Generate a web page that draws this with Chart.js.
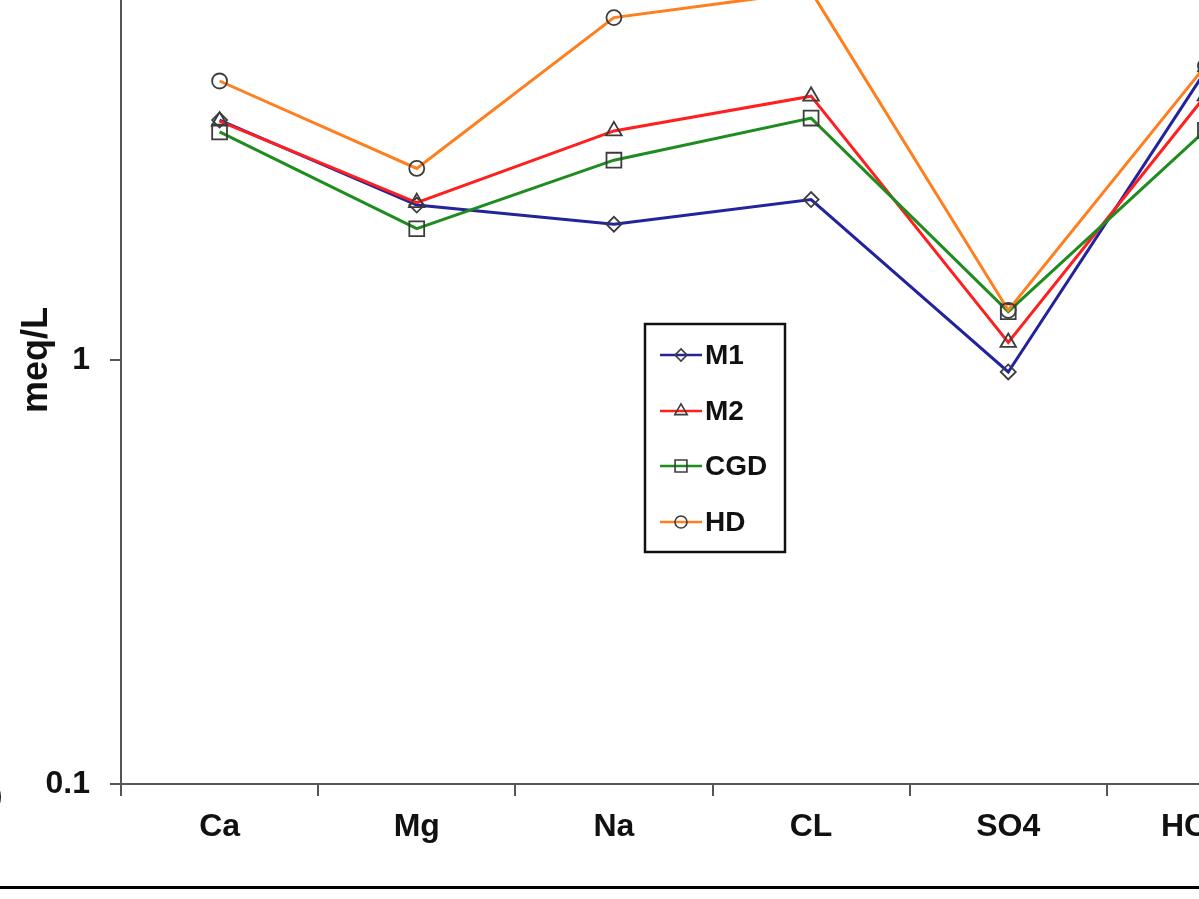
<!DOCTYPE html>
<html>
<head>
<meta charset="utf-8">
<script src="https://cdn.jsdelivr.net/npm/chart.js@4.4.1/dist/chart.umd.min.js"></script>
<style>
  html, body { margin: 0; padding: 0; background: #fff; width: 1199px; height: 899px; overflow: hidden; }
  #wrap { position: absolute; left: 0; top: 0; width: 1199px; height: 899px; overflow: hidden; }
  #chart { position: absolute; left: 0; top: -100px; }
  #rule { position: absolute; left: 0; top: 886px; width: 1199px; height: 3px; background: #000; }
  #edge { position: absolute; left: -15px; top: 780px; font: bold 31px "Liberation Sans", Arial, sans-serif; color: #111; }
</style>
</head>
<body>
<div id="wrap">
  <canvas id="chart" width="1400" height="1000"></canvas>
  <span id="edge">0</span>
  <div id="rule"></div>
</div>
<script>
// Ion concentrations (meq/L) per sample group
const categories = ['Ca', 'Mg', 'Na', 'CL', 'SO4', 'HCO3'];
const m1  = [3.68, 2.32, 2.09, 2.39, 0.937, 4.80];
const m2  = [3.66, 2.35, 3.47, 4.19, 1.10, 4.20];
const cgd = [3.45, 2.04, 2.96, 3.72, 1.30, 3.48];
const hd  = [4.55, 2.83, 6.42, 7.40, 1.31, 4.94];
const seriesNames = ['M1', 'M2', 'CGD', 'HD'];
const yTickValues = [0.1, 1, 10];
const yTickLabels = ['0.1', '1', '10'];

const FONT = '"Liberation Sans", Arial, sans-serif';
const MARKER = '#3c3c3c';

function series(label, data, color, style, radius, order) {
  return {
    label, data, order,
    borderColor: color,
    borderWidth: 3,
    tension: 0,
    fill: false,
    pointStyle: style,
    pointRadius: radius,
    pointHoverRadius: radius,
    pointBorderColor: MARKER,
    pointBackgroundColor: 'rgba(0,0,0,0)',
    pointBorderWidth: 1.8
  };
}

// Boxed legend drawn inside the plot area
const boxLegend = {
  id: 'boxLegend',
  afterDatasetsDraw(chart) {
    const ctx = chart.ctx;
    const box = { x: 645, y: 424, w: 140, h: 228 };
    ctx.save();
    ctx.fillStyle = '#fff';
    ctx.fillRect(box.x, box.y, box.w, box.h);
    ctx.lineWidth = 2.5;
    ctx.strokeStyle = '#111';
    ctx.strokeRect(box.x, box.y, box.w, box.h);
    const rows = [455, 511, 566, 622];
    chart.data.datasets.forEach((ds, i) => {
      const y = rows[i];
      ctx.strokeStyle = ds.borderColor;
      ctx.lineWidth = 2.5;
      ctx.beginPath();
      ctx.moveTo(660, y);
      ctx.lineTo(702, y);
      ctx.stroke();
      ctx.strokeStyle = MARKER;
      ctx.fillStyle = 'rgba(0,0,0,0)';
      ctx.lineWidth = 1.6;
      Chart.helpers.drawPoint(ctx, {
        pointStyle: ds.pointStyle, rotation: 0,
        radius: ds.pointRadius * 0.8, borderWidth: 1.6
      }, 681, y);
      ctx.fillStyle = '#111';
      ctx.font = 'bold 28px ' + FONT;
      ctx.textAlign = 'left';
      ctx.textBaseline = 'middle';
      ctx.fillText(ds.label, 705, y + 1);
    });
    ctx.restore();
  }
};

new Chart(document.getElementById('chart'), {
  type: 'line',
  data: {
    labels: categories,
    datasets: [
      series(seriesNames[0], m1,  '#23239a', 'rectRot', 7.5, 4),
      series(seriesNames[1], m2,  '#ff1f1f', 'triangle', 9, 3),
      series(seriesNames[2], cgd, '#1f8c1f', 'rect', 10.5, 2),
      series(seriesNames[3], hd,  '#ff7f1f', 'circle', 7.5, 1)
    ]
  },
  options: {
    responsive: false,
    animation: false,
    devicePixelRatio: 1,
    events: [],
    layout: { padding: { left: 0, right: 96, top: 36, bottom: 0 } },
    plugins: { legend: { display: false }, tooltip: { enabled: false } },
    scales: {
      x: {
        type: 'category',
        offset: true,
        afterFit(scale) { scale.height = 116; scale.paddingLeft = 0; scale.paddingRight = 0; },
        border: { display: true, color: '#555', width: 2 },
        grid: { display: true, offset: true, drawOnChartArea: false, drawTicks: true, tickLength: 12, color: '#555', lineWidth: 2 },
        ticks: { color: '#111', padding: 12, maxRotation: 0, autoSkip: false, font: { family: FONT, size: 32, weight: 'bold' } }
      },
      y: {
        type: 'logarithmic',
        min: 0.1,
        max: 10,
        afterFit(scale) { scale.width = 121; scale.paddingTop = 0; scale.paddingBottom = 0; },
        afterBuildTicks(scale) { scale.ticks = yTickValues.map(v => ({ value: v, major: true })); },
        border: { display: true, color: '#555', width: 2 },
        grid: { display: true, drawOnChartArea: false, drawTicks: true, tickLength: 11, color: '#555', lineWidth: 2 },
        ticks: {
          color: '#111', padding: 20,
          font: { family: FONT, size: 32, weight: 'bold' },
          callback: (v) => { const i = yTickValues.indexOf(v); return i >= 0 ? yTickLabels[i] : null; }
        },
        title: {
          display: true, text: 'meq/L', color: '#111',
          padding: { top: 15, bottom: 0 },
          font: { family: FONT, size: 36, weight: 'bold', lineHeight: 1.2 }
        }
      }
    }
  },
  plugins: [boxLegend]
});
</script>
</body>
</html>
